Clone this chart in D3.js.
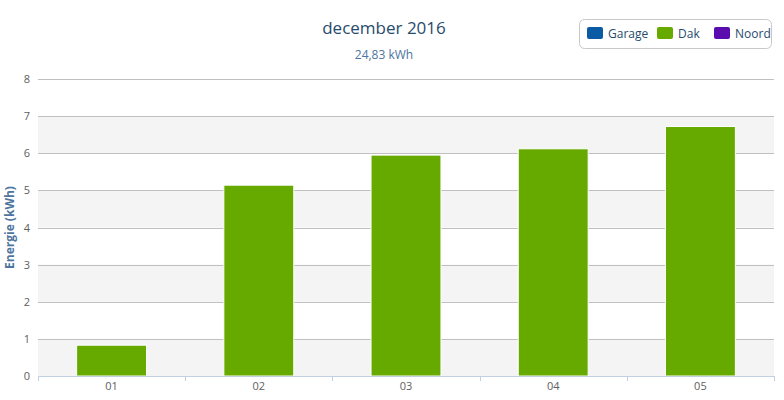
<!DOCTYPE html>
<html><head><meta charset="utf-8">
<script src="https://cdn.jsdelivr.net/npm/d3@7"></script>
<style>body{margin:0;background:#fff}svg{display:block}text{font-family:"Open Sans","Noto Sans",sans-serif}</style>
</head><body>
<svg id="c" width="784" height="400"></svg>
<script>
const categories = ["01","02","03","04","05"];
const dakValues = [0.83, 5.14, 5.95, 6.12, 6.72];
const seriesNames = ["Garage","Dak","Noord"];
const seriesColors = ["#0a5ba4","#66aa00","#5a0cae"];
const yTicks = [0,1,2,3,4,5,6,7,8];
const titleText = "december 2016";
const subtitleText = "24,83 kWh";
const yTitle = "Energie (kWh)";

const svg = d3.select("#c");
const m = {l:38, r:10, t:79, b:24};
const W = 784, H = 400;
const x = d3.scaleBand().domain(categories).range([m.l, W - m.r]).paddingInner(0.525).paddingOuter(0.2625);
const xb = d3.scaleBand().domain(categories).range([m.l, W - m.r]);
const y = d3.scaleLinear().domain([0,8]).range([376, 79]);

// alternating bands
const g = svg.append("g");
for (let i = 0; i < yTicks.length - 1; i++) {
  if (i % 2 === 0) g.append("rect").attr("x", m.l).attr("width", W - m.r - m.l)
    .attr("y", y(yTicks[i+1])).attr("height", y(yTicks[i]) - y(yTicks[i+1])).attr("fill", "#f4f4f4");
}
// gridlines
g.selectAll("line.grid").data(yTicks.slice(1)).join("line")
  .attr("x1", m.l).attr("x2", W - m.r)
  .attr("y1", d => Math.round(y(d)) + 0.5).attr("y2", d => Math.round(y(d)) + 0.5)
  .attr("stroke", "#c0c0c0").attr("stroke-width", 1);

// y labels
svg.append("g").selectAll("text").data(yTicks).join("text")
  .attr("x", 30).attr("y", d => y(d) + 4).attr("text-anchor", "end")
  .attr("font-size", 11).attr("fill", "#606060").text(d => d);

// bars
svg.append("g").selectAll("rect").data(dakValues).join("rect")
  .attr("x", (d,i) => x(categories[i])).attr("width", x.bandwidth())
  .attr("y", d => y(d)).attr("height", d => y(0) - y(d))
  .attr("fill", seriesColors[1]).attr("stroke", "#fff").attr("stroke-width", 1);

// x axis
const xa = svg.append("g");
xa.append("line").attr("x1", m.l).attr("x2", W - m.r).attr("y1", 376.5).attr("y2", 376.5).attr("stroke", "#c0d0e0");
const bounds = categories.map(c => xb(c)).concat([W - m.r]);
xa.selectAll("line.t").data(bounds).join("line").attr("class","t")
  .attr("x1", d => Math.round(d) + 0.5).attr("x2", d => Math.round(d) + 0.5)
  .attr("y1", 376).attr("y2", 381).attr("stroke", "#c0d0e0");
xa.selectAll("text").data(categories).join("text")
  .attr("x", d => xb(d) + xb.bandwidth()/2).attr("y", 390).attr("text-anchor", "middle")
  .attr("font-size", 11).attr("fill", "#606060").text(d => d);

// y title
svg.append("text").attr("transform", `translate(14,${(79+376)/2}) rotate(-90)`)
  .attr("text-anchor", "middle").attr("font-size", 12).attr("font-weight", "bold")
  .attr("fill", "#4d759e").text(yTitle);

// titles
svg.append("text").attr("x", 384).attr("y", 34).attr("text-anchor", "middle")
  .attr("font-size", 17).attr("fill", "#274b6d").text(titleText);
svg.append("text").attr("x", 384).attr("y", 59).attr("text-anchor", "middle")
  .attr("font-size", 12).attr("fill", "#4d759e").text(subtitleText);

// legend
const lg = svg.append("g");
lg.append("rect").attr("x", 579.5).attr("y", 19.5).attr("width", 192).attr("height", 29).attr("rx", 5)
  .attr("fill", "#fff").attr("stroke", "#c8c8c8");
const lx = [587, 657, 714];
seriesNames.forEach((n, i) => {
  lg.append("rect").attr("x", lx[i]).attr("y", 27).attr("width", 16).attr("height", 12).attr("rx", 2).attr("fill", seriesColors[i]);
  lg.append("text").attr("x", lx[i] + 21).attr("y", 37.5).attr("font-size", 12).attr("fill", "#274b6d").text(n);
});
</script>
</body></html>
